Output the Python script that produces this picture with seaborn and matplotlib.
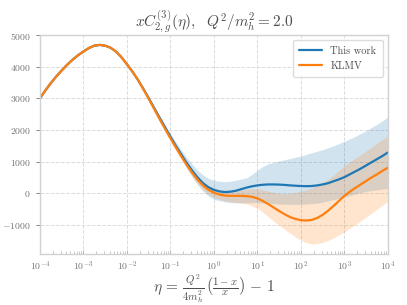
import numpy as np
import pandas as pd
import matplotlib
matplotlib.use('Agg')
import matplotlib.pyplot as plt
import seaborn as sns

# log10(eta) grid the curves were read on (every 1/8 decade)
log_eta = np.arange(-4.0, 4.001, 0.125)

# KLMV central value
klmv = [3000, 3250, 3480, 3690, 3880, 4060, 4220, 4360, 4480, 4590, 4665, 4690, 4665, 4600, 4480, 4300, 4080,
        3850, 3590, 3300, 2990, 2670, 2350, 2040, 1740, 1450, 1170, 900, 650, 430, 250, 110, 20,
        -40, -70, -80, -80, -80, -90, -110, -160, -240, -340, -450, -560, -660, -750, -810, -850,
        -860, -840, -780, -680, -550, -400, -240, -80, 50, 170, 280, 390, 500, 600, 710, 810]
# KLMV band: distance to upper / lower edge
klmv_up = [20] * 17 + [25, 30, 35, 40, 45, 50, 60, 70, 80, 90, 100, 110, 120, 130, 140, 150] + \
          [150, 160, 170, 180, 200, 220, 250, 300, 350, 410, 480, 560, 650, 750, 840, 910,
           970, 1010, 1020, 1010, 990, 970, 960, 950, 940, 940, 940, 950, 960, 980, 990, 1000]
klmv_down = [20] * 17 + [25, 30, 35, 40, 45, 50, 60, 70, 80, 90, 100, 110, 120, 130, 140, 150] + \
            [150, 170, 190, 210, 230, 250, 290, 320, 360, 400, 430, 450, 480, 510, 570, 630,
             700, 760, 810, 870, 940, 1010, 1080, 1140, 1160, 1160, 1150, 1140, 1130, 1100, 1090, 1060]

# This work central value
this_work = [3000, 3250, 3480, 3690, 3880, 4060, 4220, 4360, 4480, 4590, 4665, 4690, 4665, 4600, 4480, 4300, 4080,
             3850, 3595, 3310, 3010, 2700, 2390, 2090, 1790, 1500, 1230, 960, 720, 500, 320, 190, 110,
             60, 40, 50, 80, 130, 180, 220, 250, 270, 280, 280, 275, 265, 250, 240, 230,
             225, 230, 250, 280, 320, 380, 440, 510, 600, 690, 780, 880, 980, 1080, 1180, 1290]
this_up = [20] * 17 + [30, 40, 50, 60, 70, 80, 90, 100, 120, 140, 170, 200, 230, 260, 280, 300] + \
          [320, 330, 330, 330, 320, 310, 380, 480, 580, 650, 700, 745, 795, 850, 900, 950,
           1005, 1050, 1080, 1100, 1120, 1120, 1130, 1130, 1120, 1110, 1110, 1100, 1100, 1100, 1110, 1130]
this_down = [20] * 17 + [30, 40, 50, 60, 70, 80, 90, 100, 120, 140, 170, 200, 230, 260, 280, 300] + \
            [290, 310, 340, 380, 430, 480, 520, 550, 580, 600, 610, 615, 610, 600, 590, 580,
             565, 560, 560, 560, 560, 580, 600, 630, 670, 710, 760, 820, 890, 970, 1050, 1140]

eta = 10.0 ** log_eta
klmv_arr = np.array(klmv)
this_arr = np.array(this_work)

sns.set_style('whitegrid', {'grid.linestyle': '--', 'grid.color': '.86',
                            'axes.edgecolor': '.82', 'xtick.bottom': True,
                            'ytick.left': True})
plt.rcParams['font.family'] = 'serif'
plt.rcParams['font.serif'] = ['cmr10', 'DejaVu Serif']
plt.rcParams['mathtext.fontset'] = 'cm'
plt.rcParams['axes.formatter.use_mathtext'] = True
plt.rcParams['axes.unicode_minus'] = True

df = pd.DataFrame({
    'eta': np.concatenate([eta, eta]),
    'value': this_work + klmv,
    'source': ['This work'] * len(eta) + ['KLMV'] * len(eta),
})

fig = plt.figure(figsize=(4.07, 3.05), dpi=100)
ax = fig.add_axes([0.098, 0.167, 0.855, 0.718])

blue = '#1f77b4'
orange = '#ff7f0e'
ax.fill_between(eta, this_arr - np.array(this_down), this_arr + np.array(this_up),
                color=blue, alpha=0.2, lw=0)
ax.fill_between(eta, klmv_arr - np.array(klmv_down), klmv_arr + np.array(klmv_up),
                color=orange, alpha=0.2, lw=0)
sns.lineplot(data=df, x='eta', y='value', hue='source',
             palette={'This work': blue, 'KLMV': orange}, lw=1.6, ax=ax)

ax.set_xscale('log')
ax.set_xlim(1e-4, 1e4)
ax.set_ylim(-1920, 5000)
ax.set_yticks(np.arange(-1000, 5001, 1000))
ax.set_xticks(10.0 ** np.arange(-4, 5))
ax.grid(True, which='major', lw=0.7)
ax.tick_params(axis='both', which='major', labelsize=7, colors='.45', length=3, width=0.6)
ax.tick_params(axis='x', which='minor', bottom=True, direction='in', length=2, width=0.5, colors='.7')
ax.tick_params(axis='x', which='major', direction='in', length=3, colors='.7', labelcolor='.45')
for s in ax.spines.values():
    s.set_linewidth(1.0)

ax.set_title(r'$xC^{(3)}_{2,g}(\eta),\ \ Q^2/m_h^2 = 2.0$', fontsize=11, color='.3', pad=6)
ax.set_xlabel(r'$\eta\, =\, \frac{Q^2}{4m_h^2}\,\left(\frac{1-x}{x}\right)\, -\, 1$',
              fontsize=11, color='.3', labelpad=0)
ax.set_ylabel('')

leg = ax.legend(loc='upper right', fontsize=7.5, frameon=True, framealpha=0.9,
                edgecolor='.85', handlelength=2.2, borderpad=0.6, labelspacing=0.5)
for t in leg.get_texts():
    t.set_color('.3')

fig.savefig('out.png', dpi=100)
